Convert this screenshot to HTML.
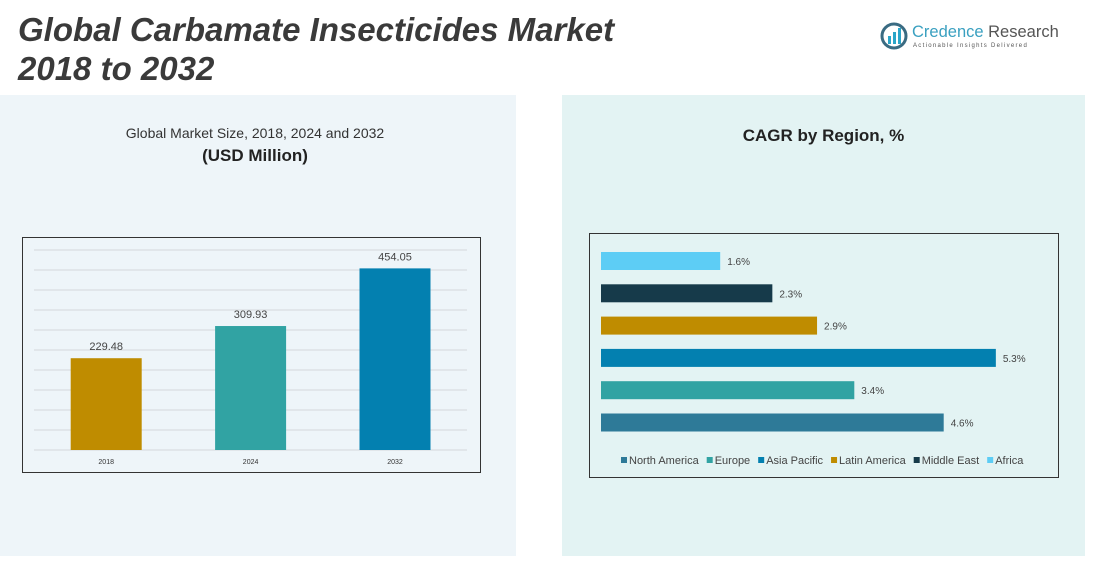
<!DOCTYPE html>
<html><head><meta charset="utf-8"><style>
body{margin:0;width:1095px;height:586px;overflow:hidden;background:#fff;font-family:"Liberation Sans",sans-serif;position:relative}
.abs{position:absolute}
</style></head><body>
<div class="abs" style="left:18px;top:10px;font-size:33px;font-weight:bold;font-style:italic;color:#3a3a3a;line-height:39px">Global Carbamate Insecticides Market<br>2018 to 2032</div>
<div class="abs" style="left:880px;top:20px;width:180px;height:32px">
<svg width="30" height="30" style="position:absolute;left:0;top:2px"><circle cx="14" cy="14" r="12" fill="none" stroke="#3a6b82" stroke-width="3"/><rect x="8" y="14" width="3" height="8" fill="#2aa5c8"/><rect x="13" y="10" width="3" height="12" fill="#2aa5c8"/><rect x="18" y="6" width="3" height="16" fill="#2aa5c8"/></svg>
<div class="abs" style="left:32px;top:3px;font-size:16.5px;color:#3aa0c0;white-space:nowrap">Credence <span style="color:#555">Research</span></div>
<div class="abs" style="left:33px;top:23px;font-size:6px;letter-spacing:1.3px;color:#555;white-space:nowrap">Actionable Insights Delivered</div>
</div>
<div class="abs" style="left:0;top:95px;width:516px;height:461px;background:#eef5f9"></div>
<div class="abs" style="left:562px;top:95px;width:523px;height:461px;background:#e3f3f3"></div>
<div class="abs" style="left:0;top:125px;width:510px;text-align:center;font-size:14px;color:#333">Global Market Size, 2018, 2024 and 2032</div>
<div class="abs" style="left:0;top:146px;width:510px;text-align:center;font-size:17px;font-weight:bold;color:#222">(USD Million)</div>
<div class="abs" style="left:562px;top:126px;width:523px;text-align:center;font-size:17px;font-weight:bold;color:#222">CAGR by Region, %</div>
<svg class="abs" style="left:0;top:0" width="1095" height="586" id="svg">
<rect x="22.5" y="237.5" width="458" height="235" fill="none" stroke="#333" stroke-width="1"/>
<rect x="589.5" y="233.5" width="469" height="244" fill="none" stroke="#333" stroke-width="1"/>
<g id="g1"></g><g id="g2"></g>
</svg>
<script>
const years=["2018","2024","2032"];
const sizes=[229.48,309.93,454.05];
const yearColors=["#bf8c00","#31a3a3","#0380b0"];
const regions=["Africa","Middle East","Latin America","Asia Pacific","Europe","North America"];
const cagr=[1.6,2.3,2.9,5.3,3.4,4.6];
const regionColors=["#5dcdf5","#163a4a","#bf8c00","#0380b0","#31a3a3","#2e7a98"];
const legendOrder=["North America","Europe","Asia Pacific","Latin America","Middle East","Africa"];
const NS="http://www.w3.org/2000/svg";
function mk(p,t,a,txt){const e=document.createElementNS(NS,t);for(const k in a)e.setAttribute(k,a[k]);if(txt!==undefined)e.textContent=txt;p.appendChild(e);return e;}
const g1=document.getElementById('g1');
const y=v=>450-v*0.4, x0=34, band=144.4;
for(let v=0;v<=500;v+=50){const l=mk(g1,'line',{x1:34,x2:467,y1:y(v),y2:y(v),stroke:'#d4d8da','stroke-width':1});

}
sizes.forEach((v,i)=>{const cx=x0+band*(i+0.5);
const r=mk(g1,'rect',{x:cx-35.5,y:y(v),width:71,height:450-y(v),fill:yearColors[i]});


const t=mk(g1,'text',{x:cx,y:y(v)-8,'text-anchor':'middle','font-size':11,fill:'#444'},v.toFixed(2));


const xl=mk(g1,'text',{x:cx,y:464,'text-anchor':'middle','font-size':7,fill:'#333'},years[i]);

});
const g2=document.getElementById('g2');
const xs=v=>601+v*74.5;
cagr.forEach((v,i)=>{const cy=261+i*32.3;
const r=mk(g2,'rect',{x:601,y:cy-9,width:xs(v)-601,height:18,fill:regionColors[i]});


const t=mk(g2,'text',{x:xs(v)+7,y:cy+4,'font-size':10,fill:'#444'},v.toFixed(1)+'%');

});
let lx=621;
legendOrder.forEach(n=>{const c=regionColors[regions.indexOf(n)];
const s=mk(g2,'rect',{x:lx,y:457,width:6,height:6,fill:c});


const t=mk(g2,'text',{x:lx+8,y:464,'font-size':11,fill:'#444'},n);


lx+=8+t.getComputedTextLength()+8;});
</script>
</body></html>
